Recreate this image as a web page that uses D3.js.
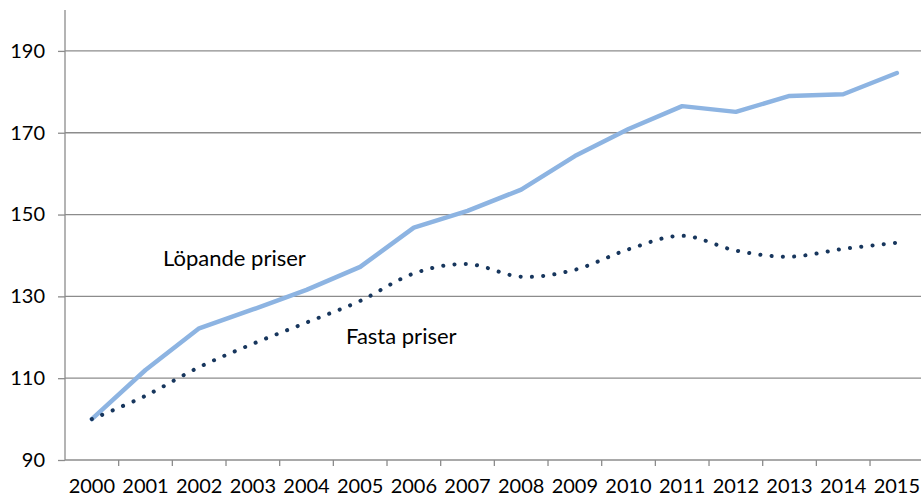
<!DOCTYPE html>
<html><head><meta charset="utf-8">
<script src="https://cdn.jsdelivr.net/npm/d3@7"></script>
<style>
html,body{margin:0;padding:0;background:#fff;}
text{font-family:Lato,"Open Sans",sans-serif;fill:#000;}
</style></head>
<body><svg id="c" width="921" height="496"></svg>
<script>
const years = ["2000","2001","2002","2003","2004","2005","2006","2007","2008","2009","2010","2011","2012","2013","2014","2015"];
const lopande = [100,112,122.2,126.8,131.6,137.2,146.8,150.9,156.1,164.3,170.9,176.5,175.1,179.0,179.4,184.6];
const fasta = [100,105.7,112.7,118.4,123.6,128.9,135.6,137.9,134.8,136.5,141.5,144.8,141.2,139.7,141.6,143.1];
const yTicks = [90,110,130,150,170,190];
const seriesLabels = ["Löpande priser","Fasta priser"];

const svg = d3.select("#c");
const x = d3.scaleBand().domain(years).range([65, 923.7]).padding(0);
const y = d3.scaleLinear().domain([90, 200]).range([460, 10]);
const gray = "#8c8c8c";

// gridlines
svg.append("g").selectAll("line").data(yTicks.filter(t => t > 90)).join("line")
  .attr("x1", 65).attr("x2", 921).attr("y1", d => y(d)).attr("y2", d => y(d))
  .attr("stroke", gray).attr("stroke-width", 1.3);

// y axis
const ya = svg.append("g").attr("transform", "translate(65,0)")
  .call(d3.axisLeft(y).tickValues(yTicks).tickSize(7).tickPadding(13).tickFormat(d3.format("d")));
ya.select(".domain").attr("stroke", gray).attr("stroke-width", 1.3).attr("d", `M-0,${y(200)}V${y(90)}`);
ya.selectAll(".tick line").attr("stroke", gray).attr("stroke-width", 1.3);
ya.selectAll("text").style("font-size", "20px").attr("fill", "#000");

// x axis
const xa = svg.append("g").attr("transform", `translate(0,${y(90)})`)
  .call(d3.axisBottom(x).tickSize(0).tickPadding(19));
xa.select(".domain").attr("stroke", gray).attr("stroke-width", 1.3).attr("d", `M65,0H921`);
xa.selectAll("text").style("font-size", "20px").attr("fill", "#000");
xa.append("g").selectAll("line").data(years.slice(1)).join("line")
  .attr("x1", d => x(d)).attr("x2", d => x(d)).attr("y1", 0).attr("y2", 6)
  .attr("stroke", gray).attr("stroke-width", 1.3);

const cx = d => x(d) + x.bandwidth() / 2;

// Löpande priser line
const line1 = d3.line().x((d, i) => cx(years[i])).y(d => y(d));
svg.append("path").datum(lopande).attr("d", line1)
  .attr("fill", "none").attr("stroke", "#8db4e2").attr("stroke-width", 4.5)
  .attr("stroke-linejoin", "round").attr("stroke-linecap", "round");

// Fasta priser smoothed dotted
const line2 = d3.line().x((d, i) => cx(years[i])).y(d => y(d)).curve(d3.curveCardinal.tension(0));
svg.append("path").datum(fasta).attr("d", line2)
  .attr("fill", "none").attr("stroke", "#17365d").attr("stroke-width", 4)
  .attr("stroke-dasharray", "0.1 11.2").attr("stroke-linecap", "round");

// series labels
svg.append("text").attr("x", 163).attr("y", 266).style("font-size", "22px").text(seriesLabels[0]);
svg.append("text").attr("x", 346).attr("y", 344).style("font-size", "22px").text(seriesLabels[1]);
</script></body></html>
